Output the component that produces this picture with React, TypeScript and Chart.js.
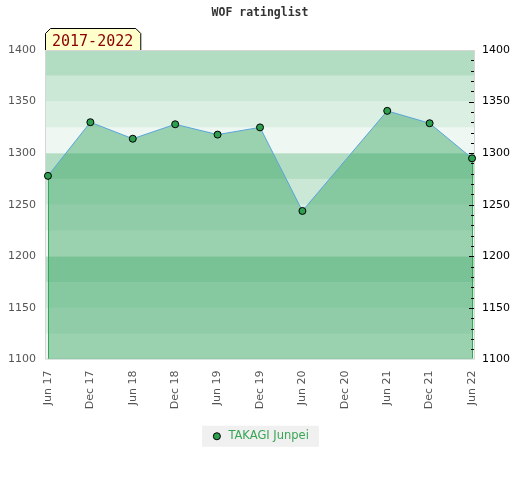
import { useEffect, useRef } from 'react';
import { Chart, registerables } from 'chart.js';

Chart.register(...registerables);

// ---- data ----
const TITLE = 'WOF ratinglist';
const PERIOD = '2017-2022';
const SERIES_NAME = 'TAKAGI Junpei';
const CATEGORIES = ['Jun 17', 'Dec 17', 'Jun 18', 'Dec 18', 'Jun 19', 'Dec 19', 'Jun 20', 'Dec 20', 'Jun 21', 'Dec 21', 'Jun 22'];
const RATINGS: (number | null)[] = [1278, 1330, 1314, 1328, 1318, 1325, 1244, null, 1341, 1329, 1295];
const Y_MIN = 1100;
const Y_MAX = 1400;
const Y_STEP = 50;
const BAND_STEP = 25;
const MINOR_STEP = 10;

// ---- styles ----
const BAND_COLORS = ['#eef7f1', '#dcefe3', '#cbe7d6', '#b3ddc3'];
const EDGE_GREEN = '#33a852';

const decorPlugin = {
  id: 'decor',
  beforeDraw(chart: any) {
    const { ctx } = chart;
    const lg = chart.legend;
    if (lg && lg.legendHitBoxes && lg.legendHitBoxes.length) {
      const hb = lg.legendHitBoxes[0];
      const last = lg.legendHitBoxes[lg.legendHitBoxes.length - 1];
      const cy = hb.top + hb.height / 2;
      ctx.save();
      ctx.fillStyle = '#f0f0f0';
      ctx.fillRect(hb.left - 9, cy - 10.5, last.left + last.width - hb.left + 19, 21);
      ctx.restore();
    }
  },
  beforeDatasetsDraw(chart: any) {
    const { ctx, chartArea: a, scales } = chart;
    const y = scales.y;
    ctx.save();
    for (let v = y.min; v < y.max; v += BAND_STEP) {
      const idx = Math.round((v - y.min) / BAND_STEP) % BAND_COLORS.length;
      const top = y.getPixelForValue(v + BAND_STEP);
      const bot = y.getPixelForValue(v);
      ctx.fillStyle = BAND_COLORS[idx];
      ctx.fillRect(a.left, top, a.right - a.left, bot - top);
    }
    ctx.strokeStyle = '#d6d6d6';
    ctx.lineWidth = 1;
    ctx.strokeRect(a.left + 0.5, a.top + 0.5, a.right - a.left - 1, a.bottom - a.top - 1);
    const meta = chart.getDatasetMeta(0);
    const idxs = RATINGS.map((v, i) => (v == null ? -1 : i)).filter((i) => i >= 0);
    const ends = [idxs[0], idxs[idxs.length - 1]];
    ctx.strokeStyle = EDGE_GREEN;
    ends.forEach((i) => {
      const p = meta.data[i];
      if (!p) return;
      const x = Math.round(p.x) + 0.5;
      ctx.beginPath();
      ctx.moveTo(x, p.y);
      ctx.lineTo(x, a.bottom - 1);
      ctx.stroke();
    });
    ctx.restore();
  },
  afterDatasetsDraw(chart: any) {
    const { ctx, chartArea: a, scales } = chart;
    const y = scales.y;
    ctx.save();
    ctx.strokeStyle = '#000';
    ctx.lineWidth = 1;
    for (let v = y.min + MINOR_STEP; v < y.max; v += MINOR_STEP) {
      const py = Math.round(y.getPixelForValue(v)) + 0.5;
      const len = (v - y.min) % Y_STEP === 0 ? 5 : 3;
      ctx.beginPath();
      ctx.moveTo(a.right - 1 - len, py);
      ctx.lineTo(a.right - 1, py);
      ctx.stroke();
    }
    ctx.restore();
  },
  afterDraw(chart: any) {
    const { ctx, chartArea: a } = chart;
    ctx.save();
    ctx.font = '15px "DejaVu Sans Mono"';
    const tw = ctx.measureText(PERIOD).width;
    const l = a.left + 0.5;
    const r = a.left + tw + 14 + 0.5;
    const t = a.top - 22 + 0.5;
    const b = a.top;
    const c = 5;
    ctx.beginPath();
    ctx.moveTo(l, b);
    ctx.lineTo(l, t + c);
    ctx.lineTo(l + c, t);
    ctx.lineTo(r - c, t);
    ctx.lineTo(r, t + c);
    ctx.lineTo(r, b);
    ctx.fillStyle = '#ffffcc';
    ctx.fill();
    ctx.strokeStyle = '#000';
    ctx.lineWidth = 1;
    ctx.stroke();
    ctx.fillStyle = '#8b0000';
    ctx.textBaseline = 'alphabetic';
    ctx.textAlign = 'left';
    ctx.fillText(PERIOD, a.left + 7, b - 4);
    ctx.restore();
  },
};

export default function App() {
  const ref = useRef<HTMLCanvasElement | null>(null);

  useEffect(() => {
    if (!ref.current) return;
    const chart = new Chart(ref.current, {
      type: 'line',
      data: {
        datasets: [
          {
            label: SERIES_NAME,
            data: RATINGS.map((v, i) => ({ x: i, y: v })) as any,
            borderColor: '#5aa5dc',
            borderWidth: 1,
            backgroundColor: 'rgba(50,162,95,0.45)',
            fill: 'start',
            tension: 0,
            spanGaps: true,
            pointRadius: 3.5,
            pointHoverRadius: 3.5,
            pointBackgroundColor: '#2e9e4f',
            pointBorderColor: '#000',
            pointBorderWidth: 1,
            clip: false as any,
          },
        ],
      },
      options: {
        responsive: false,
        animation: false,
        layout: { padding: { left: 0, right: 0, top: 0, bottom: 28 } },
        plugins: {
          title: {
            display: true,
            text: TITLE,
            color: '#333',
            font: { family: '"DejaVu Sans Mono"', size: 11.5, weight: 'bold', lineHeight: 1.2 },
            padding: { top: 6.6, bottom: 29.6 },
          },
          legend: {
            position: 'bottom',
            labels: {
              usePointStyle: true,
              boxHeight: 5,
              boxWidth: 11.5,
              padding: 10,
              color: '#3aa655',
              font: { family: '"DejaVu Sans"', size: 11.5 },
              generateLabels: (c: any) =>
                (Chart.defaults.plugins.legend.labels.generateLabels as any)(c).map((it: any) => ({
                  ...it,
                  fillStyle: '#2e9e4f',
                  strokeStyle: '#000',
                  lineWidth: 1,
                  pointStyle: 'circle',
                  fontColor: '#3aa655',
                })),
            },
          },
          tooltip: { enabled: false },
        },
        scales: {
          x: {
            type: 'linear',
            min: -0.07,
            max: CATEGORIES.length - 1 + 0.07,
            grid: { display: false, drawTicks: false },
            border: { display: false },
            afterBuildTicks: (s: any) => {
              s.ticks = CATEGORIES.map((_, i) => ({ value: i }));
            },
            afterFit: (s: any) => {
              s.height = 61;
            },
            ticks: {
              autoSkip: false,
              maxRotation: 90,
              minRotation: 90,
              padding: 11,
              color: '#555',
              font: { family: '"DejaVu Sans"', size: 11 },
              callback: (v: any) => CATEGORIES[Math.round(Number(v))] ?? '',
            },
          },
          y: {
            position: 'left',
            min: Y_MIN,
            max: Y_MAX,
            grid: { display: false, drawTicks: false },
            border: { display: false },
            afterFit: (s: any) => {
              s.width = 45;
            },
            ticks: {
              stepSize: Y_STEP,
              padding: 9,
              color: '#555',
              font: { family: '"DejaVu Sans"', size: 11 },
              callback: (v: any) => String(v),
            },
          },
          y2: {
            position: 'right',
            min: Y_MIN,
            max: Y_MAX,
            grid: { display: false, drawTicks: false },
            border: { display: false },
            afterFit: (s: any) => {
              s.width = 45;
            },
            ticks: {
              stepSize: Y_STEP,
              padding: 7,
              color: '#000',
              font: { family: '"DejaVu Sans"', size: 11 },
              callback: (v: any) => String(v),
            },
          },
        },
      } as any,
      plugins: [decorPlugin],
    });
    return () => chart.destroy();
  }, []);

  return (
    <div style={{ position: 'absolute', left: 0, top: 0, width: 520, height: 480, background: '#fff' }}>
      <canvas ref={ref} width={520} height={480} />
    </div>
  );
}
